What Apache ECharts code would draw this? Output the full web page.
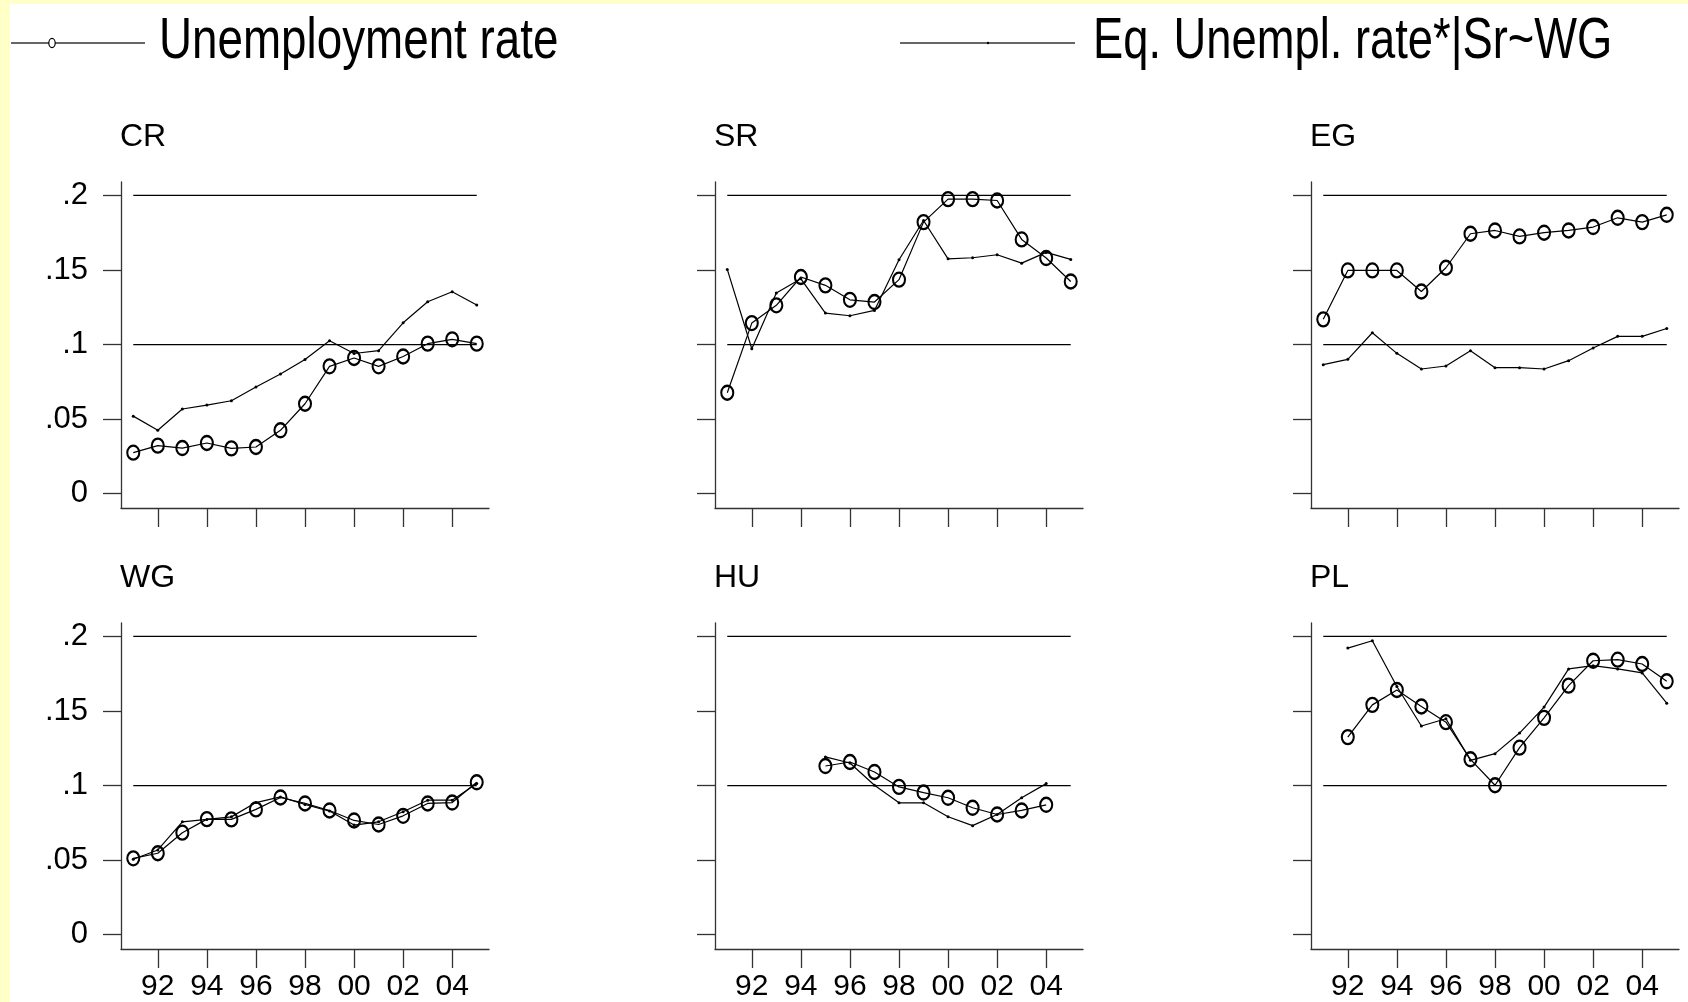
<!DOCTYPE html>
<html>
<head>
<meta charset="utf-8">
<title>Unemployment rate vs equilibrium unemployment rate</title>
<script src="https://cdn.jsdelivr.net/npm/echarts@6/dist/echarts.min.js"></script>
<style>
  html, body { margin: 0; padding: 0; background: #ffffff; }
  #frame { position: absolute; left: 0; top: 0; width: 1688px; height: 1002px; background: #FFFFC8; }
  #chart { position: absolute; left: 10px; top: 4px; width: 1678px; height: 998px; background: #ffffff; }
</style>
</head>
<body>
<div id="frame"></div>
<div id="chart"></div>
<script>
// Years 1991-2005
const years = [1991, 1992, 1993, 1994, 1995, 1996, 1997, 1998, 1999, 2000, 2001, 2002, 2003, 2004, 2005];
const xTickYears = [1992, 1994, 1996, 1998, 2000, 2002, 2004];
const yTicks = [0, 0.05, 0.1, 0.15, 0.2];
const refLevels = [0.1, 0.2];

const countries = ['CR', 'SR', 'EG', 'WG', 'HU', 'PL'];

// Observed unemployment rate
const unempCR = [0.0275, 0.0322, 0.0306, 0.0340, 0.0304, 0.0313, 0.0425, 0.0603, 0.0854, 0.0910, 0.0854, 0.0920, 0.1006, 0.1035, 0.1006];
const unempSR = [0.0677, 0.1144, 0.1263, 0.1453, 0.1397, 0.1300, 0.1285, 0.1435, 0.1821, 0.1975, 0.1975, 0.1966, 0.1705, 0.1580, 0.1423];
const unempEG = [0.1169, 0.1497, 0.1497, 0.1497, 0.1356, 0.1515, 0.1743, 0.1765, 0.1725, 0.1750, 0.1765, 0.1788, 0.1850, 0.1821, 0.1870];
const unempWG = [0.0512, 0.0546, 0.0684, 0.0775, 0.0773, 0.0840, 0.0920, 0.0880, 0.0833, 0.0766, 0.0739, 0.0797, 0.0880, 0.0886, 0.1022];
const unempHU = [null, null, null, null, 0.1131, 0.1158, 0.1091, 0.0991, 0.0953, 0.0918, 0.0851, 0.0806, 0.0833, 0.0871, null];
const unempPL = [null, 0.1325, 0.1541, 0.1641, 0.1530, 0.1425, 0.1176, 0.1002, 0.1254, 0.1454, 0.1670, 0.1837, 0.1844, 0.1815, 0.1699];

// Equilibrium unemployment rate
const eqCR = [0.0520, 0.0425, 0.0568, 0.0594, 0.0623, 0.0715, 0.0802, 0.0900, 0.1026, 0.0940, 0.0959, 0.1146, 0.1287, 0.1354, 0.1265];
const eqSR = [0.1504, 0.0972, 0.1345, 0.1441, 0.1211, 0.1193, 0.1229, 0.1569, 0.1832, 0.1575, 0.1582, 0.1602, 0.1546, 0.1618, 0.1571];
const eqEG = [0.0865, 0.0901, 0.1079, 0.0941, 0.0836, 0.0856, 0.0959, 0.0845, 0.0845, 0.0836, 0.0892, 0.0977, 0.1055, 0.1055, 0.1108];
const eqWG = [0.0506, 0.0568, 0.0757, 0.0773, 0.0790, 0.0886, 0.0924, 0.0873, 0.0829, 0.0735, 0.0757, 0.0824, 0.0902, 0.0902, 0.1013];
const eqHU = [null, null, null, null, 0.1192, 0.1151, 0.1002, 0.0884, 0.0884, 0.0791, 0.0731, 0.0806, 0.0918, 0.1013, null];
const eqPL = [null, 0.1922, 0.1971, 0.1664, 0.1399, 0.1448, 0.1169, 0.1214, 0.1352, 0.1526, 0.1782, 0.1804, 0.1782, 0.1755, 0.1552];

const unempSeries = [unempCR, unempSR, unempEG, unempWG, unempHU, unempPL];
const eqSeries = [eqCR, eqSR, eqEG, eqWG, eqHU, eqPL];

const NAME_U = 'Unemployment rate';
const NAME_EQ = 'Eq. Unempl. rate*|Sr~WG';

const FONT = '"Liberation Sans", Arial, sans-serif';

// panel layout (chart div is offset by 10,4 inside the page)
const OX = 10, OY = 4;
const colLeft = [121, 715, 1311];
const rowTop = [182, 623];
const panelW = 368, panelH = 326;

const grids = [], xAxes = [], yAxes = [], titles = [], series = [];

countries.forEach((c, i) => {
  const col = i % 3, row = Math.floor(i / 3);
  grids.push({ left: colLeft[col] - OX, top: rowTop[row] - OY, width: panelW, height: panelH, containLabel: false });
  titles.push({
    text: c, left: colLeft[col] - 1 - OX, top: rowTop[row] - 61 - OY, padding: 0,
    textStyle: { fontFamily: FONT, fontSize: 32, fontWeight: 'normal', color: '#000' }
  });
  xAxes.push({
    gridIndex: i, type: 'value', min: 1990.5, max: 2005.5,
    splitLine: { show: false },
    axisLine: { show: true, onZero: false, lineStyle: { color: '#333', width: 1.3 } },
    axisTick: { show: true, customValues: xTickYears, length: 19, lineStyle: { color: '#333', width: 1.3 } },
    axisLabel: {
      show: row === 1, customValues: xTickYears, margin: 23,
      fontFamily: FONT, fontSize: 30, color: '#000',
      formatter: v => String(v % 100).padStart(2, '0')
    }
  });
  yAxes.push({
    gridIndex: i, type: 'value', min: -0.0096, max: 0.209,
    splitLine: { show: false },
    axisLine: { show: true, onZero: false, lineStyle: { color: '#333', width: 1.3 } },
    axisTick: { show: true, customValues: yTicks, length: 18, lineStyle: { color: '#333', width: 1.3 } },
    axisLabel: {
      show: col === 0, customValues: yTicks, margin: 33,
      fontFamily: FONT, fontSize: 31, color: '#000', padding: [7, 0, 0, 0],
      formatter: v => (v === 0 ? '0' : String(+v.toFixed(2)).replace(/^0/, ''))
    }
  });

  // horizontal reference lines spanning the sample years
  refLevels.forEach(lv => {
    series.push({
      name: 'ref', type: 'line', xAxisIndex: i, yAxisIndex: i, silent: true,
      symbol: 'none', z: 1,
      lineStyle: { color: '#000', width: 1.3 },
      data: [[years[0], lv], [years[years.length - 1], lv]]
    });
  });

  series.push({
    name: NAME_EQ, type: 'line', xAxisIndex: i, yAxisIndex: i, z: 2,
    symbol: 'circle', symbolSize: 3, showAllSymbol: true, connectNulls: false,
    itemStyle: { color: '#000' },
    lineStyle: { color: '#000', width: 1.2 },
    data: years.map((y, k) => [y, eqSeries[i][k]])
  });
  series.push({
    name: NAME_U, type: 'line', xAxisIndex: i, yAxisIndex: i, z: 3,
    symbol: 'circle', symbolSize: [12, 14], showAllSymbol: true, connectNulls: false,
    itemStyle: { color: 'rgba(0,0,0,0)', borderColor: '#000', borderWidth: 2.2 },
    lineStyle: { color: '#000', width: 1.2 },
    data: years.map((y, k) => [y, unempSeries[i][k]])
  });
});

// key at the top: line sample with marker, then a condensed label
function keyItem(x0, x1, markX, marker, textX, squeeze, label) {
  return {
    type: 'group', silent: true,
    children: [
      { type: 'line', shape: { x1: x0 - OX, y1: 43 - OY, x2: x1 - OX, y2: 43 - OY }, style: { stroke: '#333', lineWidth: 1.5 } },
      marker === 'circle'
        ? { type: 'ellipse', shape: { cx: markX - OX, cy: 43 - OY, rx: 3.2, ry: 4.6 }, style: { fill: '#fff', stroke: '#000', lineWidth: 1.2 } }
        : { type: 'circle', shape: { cx: markX - OX, cy: 43 - OY, r: 1.2 }, style: { fill: '#000' } },
      {
        type: 'text', x: textX - OX, y: 42.5 - OY, scaleX: squeeze, scaleY: 1,
        style: { text: label, fontFamily: FONT, fontSize: 57, fill: '#000', align: 'left', verticalAlign: 'middle' }
      }
    ]
  };
}

const chart = echarts.init(document.getElementById('chart'), null, { renderer: 'canvas' });
chart.setOption({
  animation: false,
  backgroundColor: '#ffffff',
  title: titles,
  grid: grids,
  xAxis: xAxes,
  yAxis: yAxes,
  series: series,
  graphic: [
    keyItem(11, 145, 52, 'circle', 159, 0.803, NAME_U),
    keyItem(900, 1075, 988, 'dot', 1093, 0.795, NAME_EQ)
  ]
});
</script>
</body>
</html>
